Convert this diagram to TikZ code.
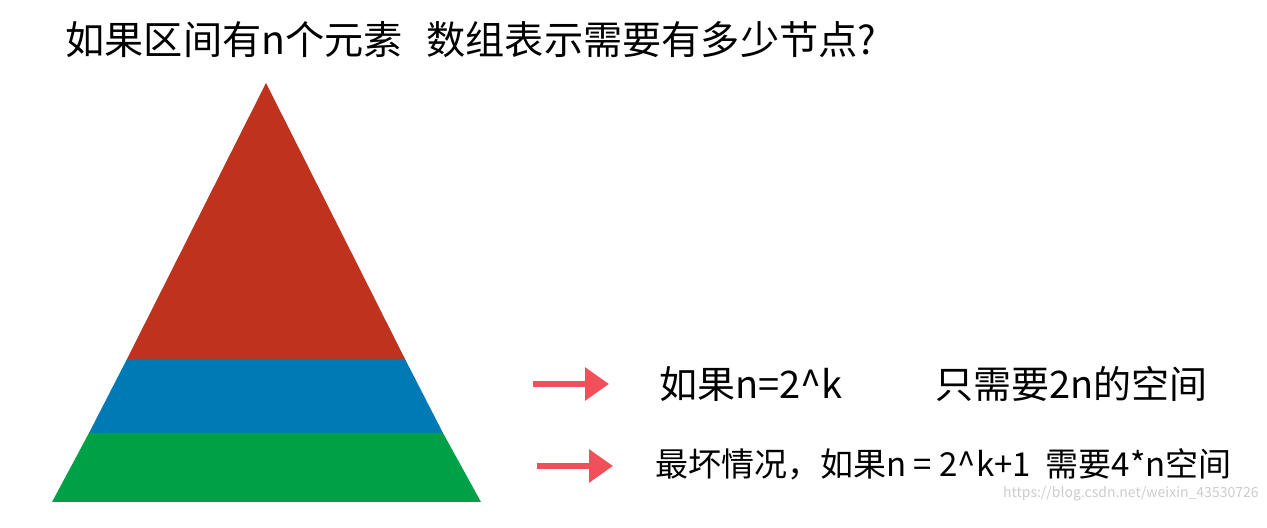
\documentclass[tikz,border=0pt]{standalone}
\usepackage{fontspec}
\setmainfont{Noto Sans CJK SC}
\usetikzlibrary{positioning}
\usetikzlibrary{arrows.meta}
\tikzset{>=Latex}
\definecolor{topred}{RGB}{190,50,30}
\definecolor{midblue}{RGB}{0,122,180}
\definecolor{lowgreen}{RGB}{0,160,70}
\definecolor{arrred}{RGB}{240,80,90}

\begin{document}
\begin{tikzpicture}[x=0.5pt, y=0.5pt,
    note/.style={anchor=west, inner sep=0pt, font=\fontsize{19}{22}\selectfont},
    pointer/.style={draw=arrred, line width=3pt, -{Triangle[length=12pt,width=16pt]}}]
            \useasboundingbox (0,0) rectangle (1267,528);
            \node[anchor=west, inner sep=0pt, font=\fontsize{19.6}{23}\selectfont] (T) at (65,488) {如果区间有n个元素\hspace{0.6em}数组表示需要有多少节点?};
            % pyramid
            \coordinate (A) at (266,445);
            \coordinate (RL) at (127,169);
            \coordinate (RR) at (405,169);
            \coordinate (BL) at (89,95);
            \coordinate (BR) at (443,95);
            \coordinate (GL) at (52,26);
            \coordinate (GR) at (481,26);
            \fill[topred] (A) -- (RR) -- (RL) -- cycle;
            \fill[midblue] (RL) -- (RR) -- (BR) -- (BL) -- cycle;
            \fill[lowgreen] (BL) -- (BR) -- (GR) -- (GL) -- cycle;
            % notes
            \node[anchor=east, inner sep=0pt, text=gray!40, font=\fontsize{7}{8}\selectfont] (W) at (1259,34) {https://blog.csdn.net/weixin\_43530726};
            \node[note] (N1) at (659,144) {如果n=2\^{}k};
            \node[note] (N2) at (935,144) {只需要2n的空间};
            \node[note, font=\fontsize{16.5}{20}\selectfont] (N3) at (655,64) {最坏情况，如果n = 2\^{}k+1\ \ 需要4*n空间};
            \coordinate (P1) at (533,144);
            \coordinate (Q1) at (609,144);
            \coordinate (P2) at (537,62);
            \coordinate (Q2) at (613,62);
            \draw[pointer] (P1) -- (Q1);
            \draw[pointer] (P2) -- (Q2);
        \end{tikzpicture}
\end{document}
